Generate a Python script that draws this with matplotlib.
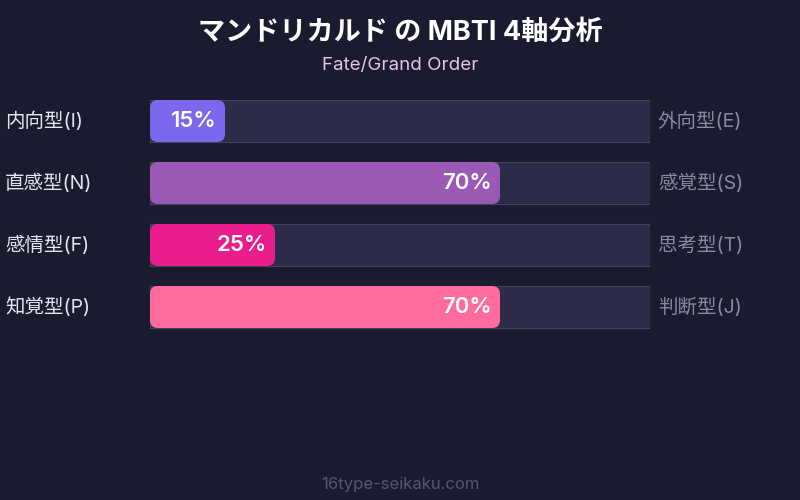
import matplotlib
matplotlib.use("Agg")
import matplotlib.pyplot as plt
from matplotlib.patches import FancyBboxPatch, Rectangle

# Latin glyphs from Inter, Japanese falls back to Noto Sans CJK JP
plt.rcParams['font.family'] = ['Inter', 'Noto Sans CJK JP', 'DejaVu Sans']

title = 'マンドリカルド の MBTI 4軸分析'
subtitle = 'Fate/Grand Order'
footer = '16type-seikaku.com'
left_labels = ['内向型(I)', '直感型(N)', '感情型(F)', '知覚型(P)']
right_labels = ['外向型(E)', '感覚型(S)', '思考型(T)', '判断型(J)']
values = [15, 70, 25, 70]
colors = ['#7b68ee', '#9b59b6', '#e91e8c', '#ff6b9d']

BG = '#1a1b2e'
TRACK = '#2d2b4a'
TRACK_EDGE = '#44425f'

fig = plt.figure(figsize=(8, 5), dpi=100)
fig.patch.set_facecolor(BG)

# axes covering the track area: x 150..650 px, y 90..338 px (4 rows of 62 px)
W, H = 800, 500
ax = fig.add_axes([150 / W, 1 - 338 / H, 500 / W, 248 / H])
ax.set_xlim(0, 100)
ax.set_ylim(3.5, -0.5)
ax.axis('off')
ax.set_facecolor(BG)

bar_h = 42 / 62
px_x = 100 / 500   # data units per pixel in x
px_y = 1 / 62      # data units per pixel in y
radius = 8 * px_x
aspect = px_y / px_x

for i, (val, col) in enumerate(zip(values, colors)):
    y0 = i - bar_h / 2
    ax.add_patch(Rectangle((0, y0), 100, bar_h, facecolor=TRACK,
                           edgecolor=TRACK_EDGE, linewidth=0.8))
    ax.add_patch(FancyBboxPatch((0, y0), val, bar_h,
                                boxstyle=f'round,pad=0,rounding_size={radius}',
                                mutation_aspect=aspect,
                                facecolor=col, edgecolor='none'))
    ax.text(val - 8 * px_x, i, f'{val}%', ha='right', va='center',
            color='white', fontsize=16, fontweight='semibold')
    ax.text(-145 * px_x, i, left_labels[i], ha='left', va='center',
            color='#e6e6f0', fontsize=14, clip_on=False)
    ax.text(100 + 8 * px_x, i, right_labels[i], ha='left', va='center',
            color='#8a8a9e', fontsize=14, clip_on=False)

fig.text(0.5, 1 - 33 / H, title, ha='center', va='center',
         color='white', fontsize=19.5, fontweight='bold')
fig.text(0.5, 1 - 65 / H, subtitle, ha='center', va='center',
         color='#e8c4e4', fontsize=13.5)
fig.text(0.5, 1 - 484 / H, footer, ha='center', va='center',
         color='#56566e', fontsize=12)

fig.savefig('out.png', dpi=100, facecolor=BG)
